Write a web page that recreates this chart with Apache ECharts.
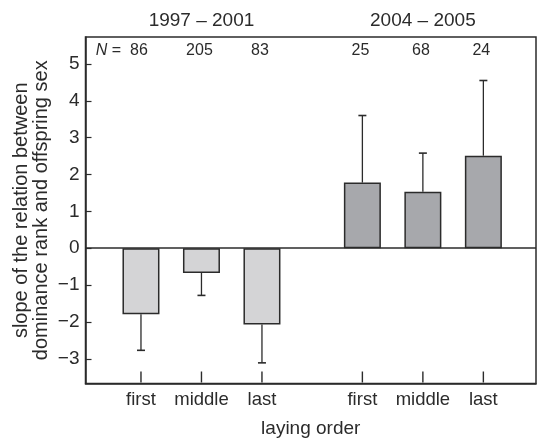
<!DOCTYPE html>
<html>
<head>
<meta charset="utf-8">
<script src="https://cdn.jsdelivr.net/npm/echarts@6/dist/echarts.min.js"></script>
<style>
    html, body { margin: 0; padding: 0; background: #fff; }
    #chart { width: 538px; height: 439px; }
</style>
</head>
<body>
<div id="chart"></div>
<script>
// 数据
const periods = ['1997 – 2001', '2004 – 2005']
const layingOrder = ['first', 'middle', 'last', 'first', 'middle', 'last']
const xPos = [1, 2, 3, 4.66, 5.66, 6.66]
const slopes1997 = [-1.79, -0.67, -2.07]
const errEnd1997 = [-2.77, -1.28, -3.11]
const slopes2004 = [1.78, 1.53, 2.51]
const errEnd2004 = [3.6, 2.58, 4.55]
const sampleN = [86, 205, 83, 25, 68, 24]
const yTicks = [-3, -2, -1, 0, 1, 2, 3, 4, 5]

const Y_MIN = -3.67
const Y_MAX = 5.73
const FONT = '"Liberation Sans", Arial, Helvetica, sans-serif'
const INK = '#2b2b2b'

const slopes = slopes1997.concat(slopes2004)
const errEnd = errEnd1997.concat(errEnd2004)

const myChart = echarts.init(document.getElementById('chart'))

// 误差线 + 样本量 + 时段标题
const errorSeries = {
    type: 'custom',
    z: 5,
    clip: false,
    data: xPos.map((x, i) => [x, slopes[i], errEnd[i], sampleN[i]]),
    renderItem: (params, api) => {
        const i = params.dataIndex
        const base = api.coord([api.value(0), api.value(1)])
        const tip = api.coord([api.value(0), api.value(2)])
        const top = api.coord([api.value(0), Y_MAX])[1]
        const children = [
            { type: 'line', shape: { x1: base[0], y1: base[1], x2: tip[0], y2: tip[1] },
              style: { stroke: INK, lineWidth: 1.3 } },
            { type: 'line', shape: { x1: tip[0] - 4, y1: tip[1], x2: tip[0] + 4, y2: tip[1] },
              style: { stroke: INK, lineWidth: 1.6 } },
            { type: 'text', x: base[0] - 2, y: top + 14,
              style: { text: String(api.value(3)), fill: INK, font: '16px ' + FONT,
                       align: 'center', verticalAlign: 'middle' } }
        ]
        if (i === 0) {
            children.push({ type: 'text', x: base[0] - 20, y: top + 14,
                style: { text: '{n|N} =', align: 'right', verticalAlign: 'middle',
                         font: '16px ' + FONT, fill: INK,
                         rich: { n: { fontStyle: 'italic', fontSize: 16, fontFamily: FONT, fill: INK } } } })
        }
        if (i === 1 || i === 4) {
            children.push({ type: 'text', x: base[0], y: top - 16,
                style: { text: periods[i === 1 ? 0 : 1], fill: INK, font: '19px ' + FONT,
                         align: 'center', verticalAlign: 'middle' } })
        }
        return { type: 'group', children }
    }
}

myChart.setOption({
    animation: false,
    textStyle: { fontFamily: FONT },
    grid: {
        left: 85.5,
        right: 2,
        top: 37,
        bottom: 55.5,
        outerBoundsMode: 'none',
        show: true,
        borderColor: INK,
        borderWidth: 1.5
    },
    xAxis: {
        type: 'value',
        min: 0.083,
        max: 7.53,
        name: 'laying order',
        nameLocation: 'middle',
        nameGap: 36,
        nameTextStyle: { color: INK, fontSize: 19, fontFamily: FONT },
        axisLine: { show: true, onZero: false, lineStyle: { color: INK, width: 1.5 } },
        axisTick: { show: false },
        axisLabel: {
            customValues: xPos,
            color: INK,
            fontSize: 18.5,
            margin: 7,
            formatter: (v) => layingOrder[xPos.indexOf(v)]
        },
        splitLine: { show: false }
    },
    yAxis: {
        type: 'value',
        min: Y_MIN,
        max: Y_MAX,
        name: 'slope of the relation between\ndominance rank and offspring sex',
        nameLocation: 'middle',
        nameGap: 34,
        nameMoveOverlap: false,
        nameTextStyle: { color: INK, fontSize: 20, lineHeight: 20, fontFamily: FONT },
        axisLine: { show: true, onZero: false, lineStyle: { color: INK, width: 1.5 } },
        axisTick: { show: true, inside: true, length: 6, customValues: yTicks,
                    lineStyle: { color: INK, width: 1.2 } },
        axisLabel: {
            customValues: yTicks,
            color: INK,
            fontSize: 19,
            margin: 6,
            formatter: (v) => v < 0 ? '\u2212' + Math.abs(v) : String(v)
        },
        splitLine: { show: false }
    },
    series: [{
        type: 'bar',
        barWidth: 37,
        z: 2,
        data: xPos.map((x, i) => ({
            value: [x, slopes[i]],
            itemStyle: { color: i < 3 ? '#d4d4d6' : '#a7a8ac', borderColor: INK, borderWidth: 1.5 }
        })),
        markLine: {
            silent: true,
            symbol: 'none',
            label: { show: false },
            lineStyle: { color: INK, width: 1.5, type: 'solid' },
            data: [{ yAxis: 0 }]
        }
    }, errorSeries]
})

// x轴朝内刻度：用坐标换算后画在 graphic 层
const tickGraphics = xPos.map((x) => {
    const p = myChart.convertToPixel({ gridIndex: 0 }, [x, Y_MIN])
    return {
        type: 'line',
        z: 100,
        silent: true,
        shape: { x1: p[0], y1: p[1] - 1, x2: p[0], y2: p[1] - 12 },
        style: { stroke: INK, lineWidth: 1.4 }
    }
})
myChart.setOption({ graphic: tickGraphics })
</script>
</body>
</html>
